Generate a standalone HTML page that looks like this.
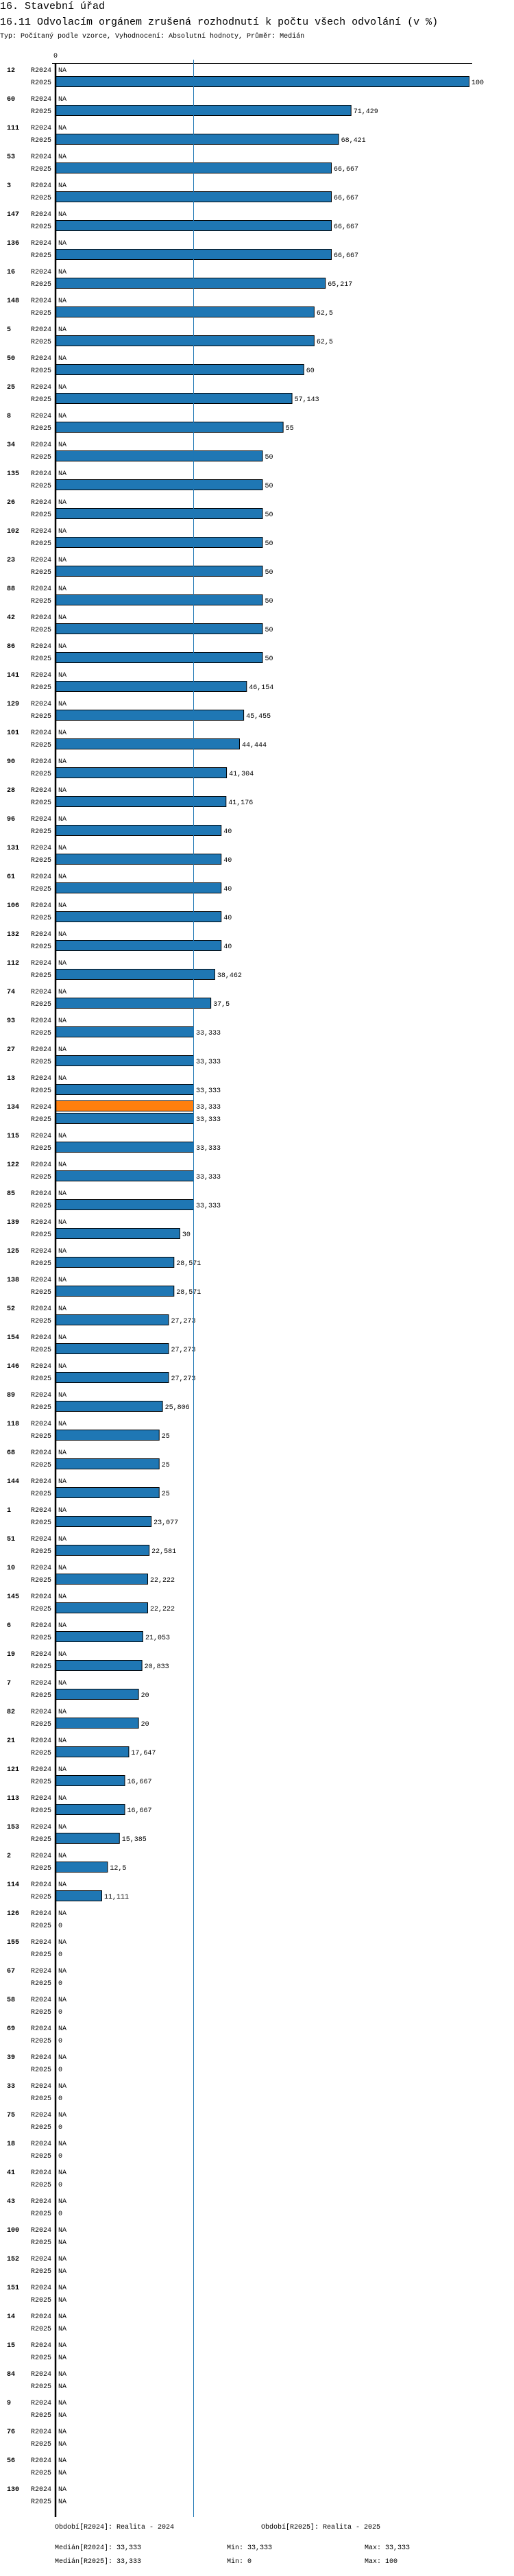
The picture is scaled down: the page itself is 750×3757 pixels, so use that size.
<!DOCTYPE html>
<html><head><meta charset="utf-8"><style>
body{margin:0;background:#fff;width:750px;height:3752px;overflow:hidden}
svg text{font-family:"Liberation Mono","DejaVu Sans Mono",monospace}
</style></head><body>
<svg id="chart" width="750" height="3752" xmlns="http://www.w3.org/2000/svg">
<text x="0" y="13" font-size="15">16. Stavební úřad</text>
<text x="0" y="36" font-size="15">16.11 Odvolacím orgánem zrušená rozhodnutí k počtu všech odvolání (v %)</text>
<text x="0" y="55" font-size="10">Typ: Počítaný podle vzorce, Vyhodnocení: Absolutní hodnoty, Průměr: Medián</text>
<g id="plot"></g>
<text x="80" y="3688" font-size="10">Období[R2024]: Realita - 2024</text>
<text x="381" y="3688" font-size="10">Období[R2025]: Realita - 2025</text>
<text x="80" y="3718" font-size="10">Medián[R2024]: 33,333</text>
<text x="331" y="3718" font-size="10">Min: 33,333</text>
<text x="532" y="3718" font-size="10">Max: 33,333</text>
<text x="80" y="3738" font-size="10">Medián[R2025]: 33,333</text>
<text x="331" y="3738" font-size="10">Min: 0</text>
<text x="532" y="3738" font-size="10">Max: 100</text>
</svg>
<script>
const categories=["12","60","111","53","3","147","136","16","148","5","50","25","8","34","135","26","102","23","88","42","86","141","129","101","90","28","96","131","61","106","132","112","74","93","27","13","134","115","122","85","139","125","138","52","154","146","89","118","68","144","1","51","10","145","6","19","7","82","21","121","113","153","2","114","126","155","67","58","69","39","33","75","18","41","43","100","152","151","14","15","84","9","76","56","130"];
const valuesR2024=[null,null,null,null,null,null,null,null,null,null,null,null,null,null,null,null,null,null,null,null,null,null,null,null,null,null,null,null,null,null,null,null,null,null,null,null,33.333,null,null,null,null,null,null,null,null,null,null,null,null,null,null,null,null,null,null,null,null,null,null,null,null,null,null,null,null,null,null,null,null,null,null,null,null,null,null,null,null,null,null,null,null,null,null,null,null];
const valuesR2025=[100,71.429,68.421,66.667,66.667,66.667,66.667,65.217,62.5,62.5,60,57.143,55,50,50,50,50,50,50,50,50,46.154,45.455,44.444,41.304,41.176,40,40,40,40,40,38.462,37.5,33.333,33.333,33.333,33.333,33.333,33.333,33.333,30,28.571,28.571,27.273,27.273,27.273,25.806,25,25,25,23.077,22.581,22.222,22.222,21.053,20.833,20,20,17.647,16.667,16.667,15.385,12.5,11.111,0,0,0,0,0,0,0,0,0,0,0,null,null,null,null,null,null,null,null,null,null];
const medianValue=33.333;
const axisTicks=["0"];

const NS="http://www.w3.org/2000/svg";
const g=document.getElementById('plot');
const x0=81, pxPerUnit=6.03, topY=101, pitch=42;
const xScale=v=>x0+v*pxPerUnit;
const yRow=(i,s)=>topY+pitch*i+s*18;
function mk(tag,attrs){const e=document.createElementNS(NS,tag);for(const k in attrs)e.setAttribute(k,attrs[k]);g.appendChild(e);return e;}
function fmt(v){return String(Math.round(v*1000)/1000).replace('.',',');}
const bottomY=yRow(categories.length-1,1)+24;

let t=mk('text',{x:xScale(0),y:84,'font-size':10,'text-anchor':'middle'});t.textContent=axisTicks[0];


let l=mk('line',{x1:76,x2:689,y1:92.5,y2:92.5,stroke:'#000','stroke-width':1});



categories.forEach((c,i)=>{
  const gl=mk('text',{x:10,y:yRow(i,0)+4,'font-size':10,'font-weight':'bold'});gl.textContent=c;
  
  
  [[valuesR2024,'R2024','#ff7f0e'],[valuesR2025,'R2025','#1f77b4']].forEach(([arr,name,col],s)=>{
    const yc=yRow(i,s);
    const sl=mk('text',{x:75,y:yc+4,'font-size':10,'text-anchor':'end'});sl.textContent=name;
    
    
    const v=arr[i];
    if(v===null){
      const na=mk('text',{x:85,y:yc+4,'font-size':10});na.textContent='NA';
      
      
    } else {
      if(v>0){
        const r=mk('rect',{x:xScale(0)+0.5,y:yc-7.5,width:xScale(v)-xScale(0),height:15,fill:col,stroke:'#000','stroke-width':1});
        
        
      }
      const vl=mk('text',{x:xScale(v)+4,y:yc+4,'font-size':10});vl.textContent=fmt(v);
      
      
    }
  });
});
let m=mk('line',{x1:xScale(medianValue)+0.5,x2:xScale(medianValue)+0.5,y1:87,y2:bottomY,stroke:'#1f77b4','stroke-width':1});


let ax=mk('line',{x1:x0,x2:x0,y1:92,y2:bottomY,stroke:'#000','stroke-width':2.5});


</script>
</body></html>
